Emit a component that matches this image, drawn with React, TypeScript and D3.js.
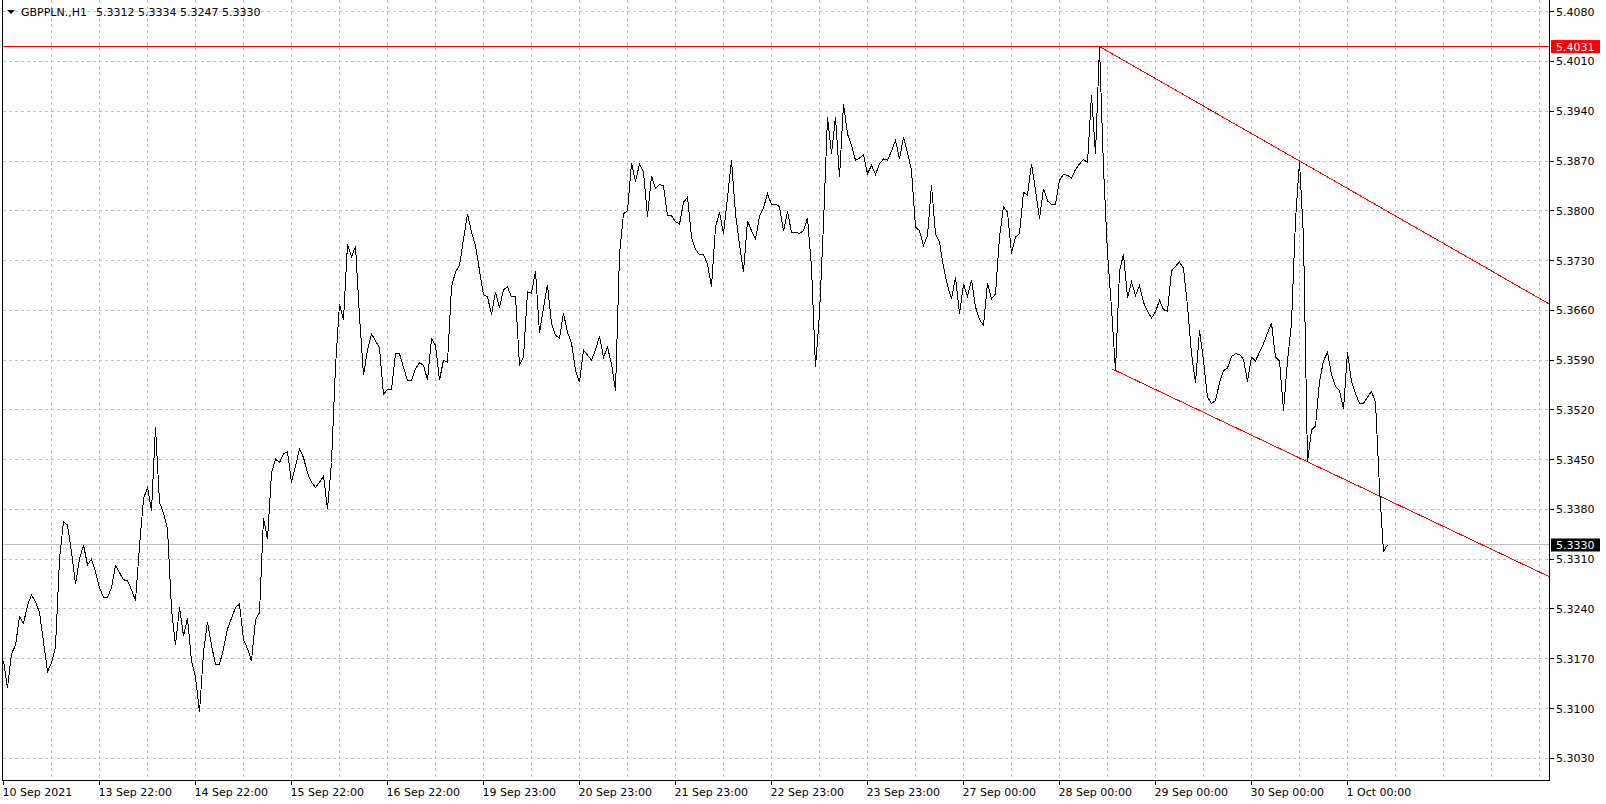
import React from 'react';
import * as d3 from 'd3';

const W = 1606;
const H = 804;

// Hourly closes GBPPLN H1, 10 Sep 2021 -> 1 Oct 2021 10:00
const closes: number[] = [
  5.3167, 5.3129, 5.3177, 5.3189, 5.3229, 5.3220, 5.3245, 5.3260, 5.3250, 5.3235,
  5.3194, 5.3152, 5.3164, 5.3187, 5.3310, 5.3363, 5.3358, 5.3320, 5.3275, 5.3310,
  5.3330, 5.3302, 5.3310, 5.3292, 5.3270, 5.3256, 5.3256, 5.3270, 5.3301, 5.3291,
  5.3281, 5.3280, 5.3267, 5.3252, 5.3328, 5.3395, 5.3411, 5.3378, 5.3496, 5.3390,
  5.3375, 5.3353, 5.3240, 5.3189, 5.3242, 5.3202, 5.3227, 5.3167, 5.3144, 5.3095,
  5.3179, 5.3222, 5.3189, 5.3162, 5.3162, 5.3184, 5.3212, 5.3227, 5.3242, 5.3247,
  5.3197, 5.3184, 5.3167, 5.3225, 5.3235, 5.3368, 5.3338, 5.3431, 5.3451, 5.3446,
  5.3458, 5.3461, 5.3418, 5.3441, 5.3465, 5.3453, 5.3431, 5.3418, 5.3411, 5.3418,
  5.3427, 5.3381, 5.3446, 5.3581, 5.3669, 5.3647, 5.3753, 5.3735, 5.3750, 5.3652,
  5.3569, 5.3604, 5.3627, 5.3617, 5.3607, 5.3542, 5.3549, 5.3549, 5.3599, 5.3599,
  5.3580, 5.3561, 5.3561, 5.3578, 5.3586, 5.3583, 5.3562, 5.3620, 5.3611, 5.3562,
  5.3590, 5.3587, 5.3693, 5.3714, 5.3723, 5.3760, 5.3796, 5.3770, 5.3751, 5.3716,
  5.3682, 5.3679, 5.3654, 5.3686, 5.3664, 5.3689, 5.3693, 5.3679, 5.3680, 5.3583,
  5.3594, 5.3686, 5.3684, 5.3715, 5.3628, 5.3664, 5.3696, 5.3641, 5.3625, 5.3621,
  5.3656, 5.3629, 5.3614, 5.3576, 5.3559, 5.3604, 5.3597, 5.3590, 5.3604, 5.3624,
  5.3594, 5.3608, 5.3585, 5.3547, 5.3739, 5.3796, 5.3800, 5.3867, 5.3841, 5.3866,
  5.3854, 5.3792, 5.3849, 5.3831, 5.3837, 5.3835, 5.3793, 5.3793, 5.3785, 5.3781,
  5.3812, 5.3819, 5.3763, 5.3746, 5.3738, 5.3738, 5.3725, 5.3693, 5.3777, 5.3798,
  5.3768, 5.3819, 5.3871, 5.3796, 5.3753, 5.3714, 5.3786, 5.3772, 5.3760, 5.3792,
  5.3804, 5.3824, 5.3809, 5.3809, 5.3806, 5.3771, 5.3799, 5.3770, 5.3770, 5.3768,
  5.3772, 5.3790, 5.3721, 5.3580, 5.3655, 5.3782, 5.3932, 5.3880, 5.3932, 5.3847,
  5.3950, 5.3908, 5.3892, 5.3871, 5.3874, 5.3879, 5.3852, 5.3864, 5.3851, 5.3866,
  5.3873, 5.3871, 5.3884, 5.3899, 5.3873, 5.3903, 5.3882, 5.3857, 5.3777, 5.3772,
  5.3751, 5.3765, 5.3836, 5.3768, 5.3756, 5.3721, 5.3695, 5.3676, 5.3707, 5.3655,
  5.3697, 5.3680, 5.3703, 5.3665, 5.3647, 5.3639, 5.3698, 5.3676, 5.3683, 5.3763,
  5.3806, 5.3798, 5.3740, 5.3763, 5.3768, 5.3826, 5.3822, 5.3866, 5.3829, 5.3789,
  5.3831, 5.3814, 5.3809, 5.3809, 5.3843, 5.3851, 5.3850, 5.3846, 5.3858, 5.3866,
  5.3872, 5.3868, 5.3963, 5.3880, 5.4031, 5.3860, 5.3740, 5.3663, 5.3575, 5.3715,
  5.3739, 5.3678, 5.3700, 5.3681, 5.3695, 5.3671, 5.3659, 5.3649, 5.3658, 5.3674,
  5.3661, 5.3659, 5.3715, 5.3722, 5.3728, 5.3719, 5.3666, 5.3599, 5.3558, 5.3632,
  5.3589, 5.3538, 5.3529, 5.3533, 5.3558, 5.3575, 5.3579, 5.3595, 5.3599, 5.3598,
  5.3591, 5.3560, 5.3594, 5.3589, 5.3601, 5.3613, 5.3628, 5.3642, 5.3594, 5.3589,
  5.3519, 5.3589, 5.3642, 5.3787, 5.3869, 5.3763, 5.3447, 5.3492, 5.3497, 5.3560,
  5.3589, 5.3601, 5.3570, 5.3553, 5.3547, 5.3521, 5.3601, 5.3560, 5.3543, 5.3529,
  5.3529, 5.3538, 5.3546, 5.3531, 5.3410, 5.3321, 5.3330,
];

const yTicks: number[] = [
  5.4080, 5.4010, 5.3940, 5.3870, 5.3800, 5.3730, 5.3660, 5.3590,
  5.3520, 5.3450, 5.3380, 5.3310, 5.3240, 5.3170, 5.3100, 5.3030,
];

const xTickBars: number[] = [0, 24, 48, 72, 96, 120, 144, 168, 192, 216, 240, 264, 288, 312, 336];
const xTickLabels: string[] = [
  '10 Sep 2021', '13 Sep 22:00', '14 Sep 22:00', '15 Sep 22:00', '16 Sep 22:00',
  '19 Sep 23:00', '20 Sep 23:00', '21 Sep 23:00', '22 Sep 23:00', '23 Sep 23:00',
  '27 Sep 00:00', '28 Sep 00:00', '29 Sep 00:00', '30 Sep 00:00', '1 Oct 00:00',
];
const gridBars: number[] = d3.range(12, 386, 12);

const symbolLabel = 'GBPPLN.,H1';
const ohlcLabels: string[] = ['5.3312', '5.3334', '5.3247', '5.3330'];

const resistanceLevel = 5.4031;
const currentPrice = 5.3330;

// trend lines: [bar index, price] anchor pairs
const upperTrend: [number, number][] = [[274, 5.4031], [324, 5.3870]];
const lowerTrend: [number, number][] = [[277, 5.3578], [326, 5.3447]];

const FONT = '"DejaVu Sans", Tahoma, Verdana, sans-serif';

export default function App() {
  const left = 2;
  const right = 1549;
  const top = 0;
  const bottom = 780;

  const x = d3.scaleLinear().domain([0, 386]).range([3.5, 1547.5]);
  const y = d3.scaleLinear().domain([5.3030, 5.4080]).range([758.3, 11.7]);
  const barEnd = x.invert(right);

  const crisp = (v: number) => Math.floor(v) + 0.5;

  const line = d3
    .line<number>()
    .x((_, i) => x(i))
    .y((d) => y(d));

  const ray = (pts: [number, number][]) => {
    const [[b1, p1], [b2, p2]] = pts;
    const slope = (p2 - p1) / (b2 - b1);
    const pEnd = p1 + slope * (barEnd - b1);
    return { x1: x(b1), y1: y(p1), x2: x(barEnd), y2: y(pEnd) };
  };
  const up = ray(upperTrend);
  const lo = ray(lowerTrend);

  const gridColor = '#c0c0c0';

  return (
    <svg
      width={W}
      height={H}
      style={{ position: 'absolute', left: 0, top: 0, display: 'block', background: '#fff' }}
      fontFamily={FONT}
      fontSize={11}
    >
      <rect x={0} y={0} width={W} height={H} fill="#fff" />
      <defs>
        <clipPath id="plot">
          <rect x={left} y={top} width={right - left} height={bottom - top} />
        </clipPath>
      </defs>

      {/* grid */}
      <g stroke={gridColor} strokeWidth={1} strokeDasharray="3,3" shapeRendering="crispEdges">
        {yTicks.map((t) => (
          <line key={'h' + t} x1={left + 1} x2={right} y1={crisp(y(t))} y2={crisp(y(t))} />
        ))}
        {gridBars.map((b) => (
          <line key={'v' + b} x1={crisp(x(b))} x2={crisp(x(b))} y1={top} y2={bottom} />
        ))}
      </g>

      {/* current price line */}
      <line
        x1={left}
        x2={right}
        y1={crisp(y(currentPrice))}
        y2={crisp(y(currentPrice))}
        stroke="#c0c0c0"
        strokeWidth={1}
        shapeRendering="crispEdges"
      />

      <g clipPath="url(#plot)">
        {/* resistance line */}
        <line
          x1={left}
          x2={right}
          y1={crisp(y(resistanceLevel))}
          y2={crisp(y(resistanceLevel))}
          stroke="#ff0000"
          strokeWidth={1}
          shapeRendering="crispEdges"
        />
        {/* trend lines */}
        <line {...up} stroke="#ff0000" strokeWidth={1} shapeRendering="crispEdges" />
        <line {...lo} stroke="#ff0000" strokeWidth={1} shapeRendering="crispEdges" />
        {/* price line */}
        <path
          d={line(closes) || ''}
          fill="none"
          stroke="#000"
          strokeWidth={1}
          strokeLinejoin="miter"
          shapeRendering="crispEdges"
        />
      </g>

      {/* frame */}
      <g stroke="#000" strokeWidth={1} shapeRendering="crispEdges">
        <line x1={left + 0.5} x2={left + 0.5} y1={top} y2={bottom + 0.5} />
        <line x1={right + 0.5} x2={right + 0.5} y1={top} y2={bottom + 0.5} />
        <line x1={left} x2={right + 1} y1={bottom + 0.5} y2={bottom + 0.5} />
      </g>

      {/* y axis */}
      <g>
        {yTicks.map((t) => (
          <g key={'yt' + t}>
            <line
              x1={right + 1}
              x2={right + 5}
              y1={crisp(y(t))}
              y2={crisp(y(t))}
              stroke="#000"
              shapeRendering="crispEdges"
            />
            <text x={1556} y={y(t) + 4} fill="#000">
              {t.toFixed(4)}
            </text>
          </g>
        ))}
      </g>

      {/* price tags */}
      <rect x={1551} y={y(resistanceLevel) - 6.5} width={49} height={13} fill="#ff0000" />
      <text x={1556} y={y(resistanceLevel) + 4} fill="#fff">
        {resistanceLevel.toFixed(4)}
      </text>
      <rect x={1551} y={y(currentPrice) - 6.5} width={49} height={13} fill="#000" />
      <text x={1556} y={y(currentPrice) + 4} fill="#fff">
        {currentPrice.toFixed(4)}
      </text>

      {/* x axis */}
      <g>
        {xTickBars.map((b, i) => (
          <g key={'xt' + b}>
            <line
              x1={crisp(x(b))}
              x2={crisp(x(b))}
              y1={bottom + 1}
              y2={bottom + 5}
              stroke="#000"
              shapeRendering="crispEdges"
            />
            <text x={x(b) - 1} y={796} fill="#000">
              {xTickLabels[i]}
            </text>
          </g>
        ))}
      </g>

      {/* header */}
      <path d="M7,10 L15,10 L11,14 Z" fill="#000" />
      <text x={21} y={16} fill="#000">
        {symbolLabel}
      </text>
      <text x={96} y={16} fill="#000">
        {ohlcLabels.join(' ')}
      </text>
    </svg>
  );
}
